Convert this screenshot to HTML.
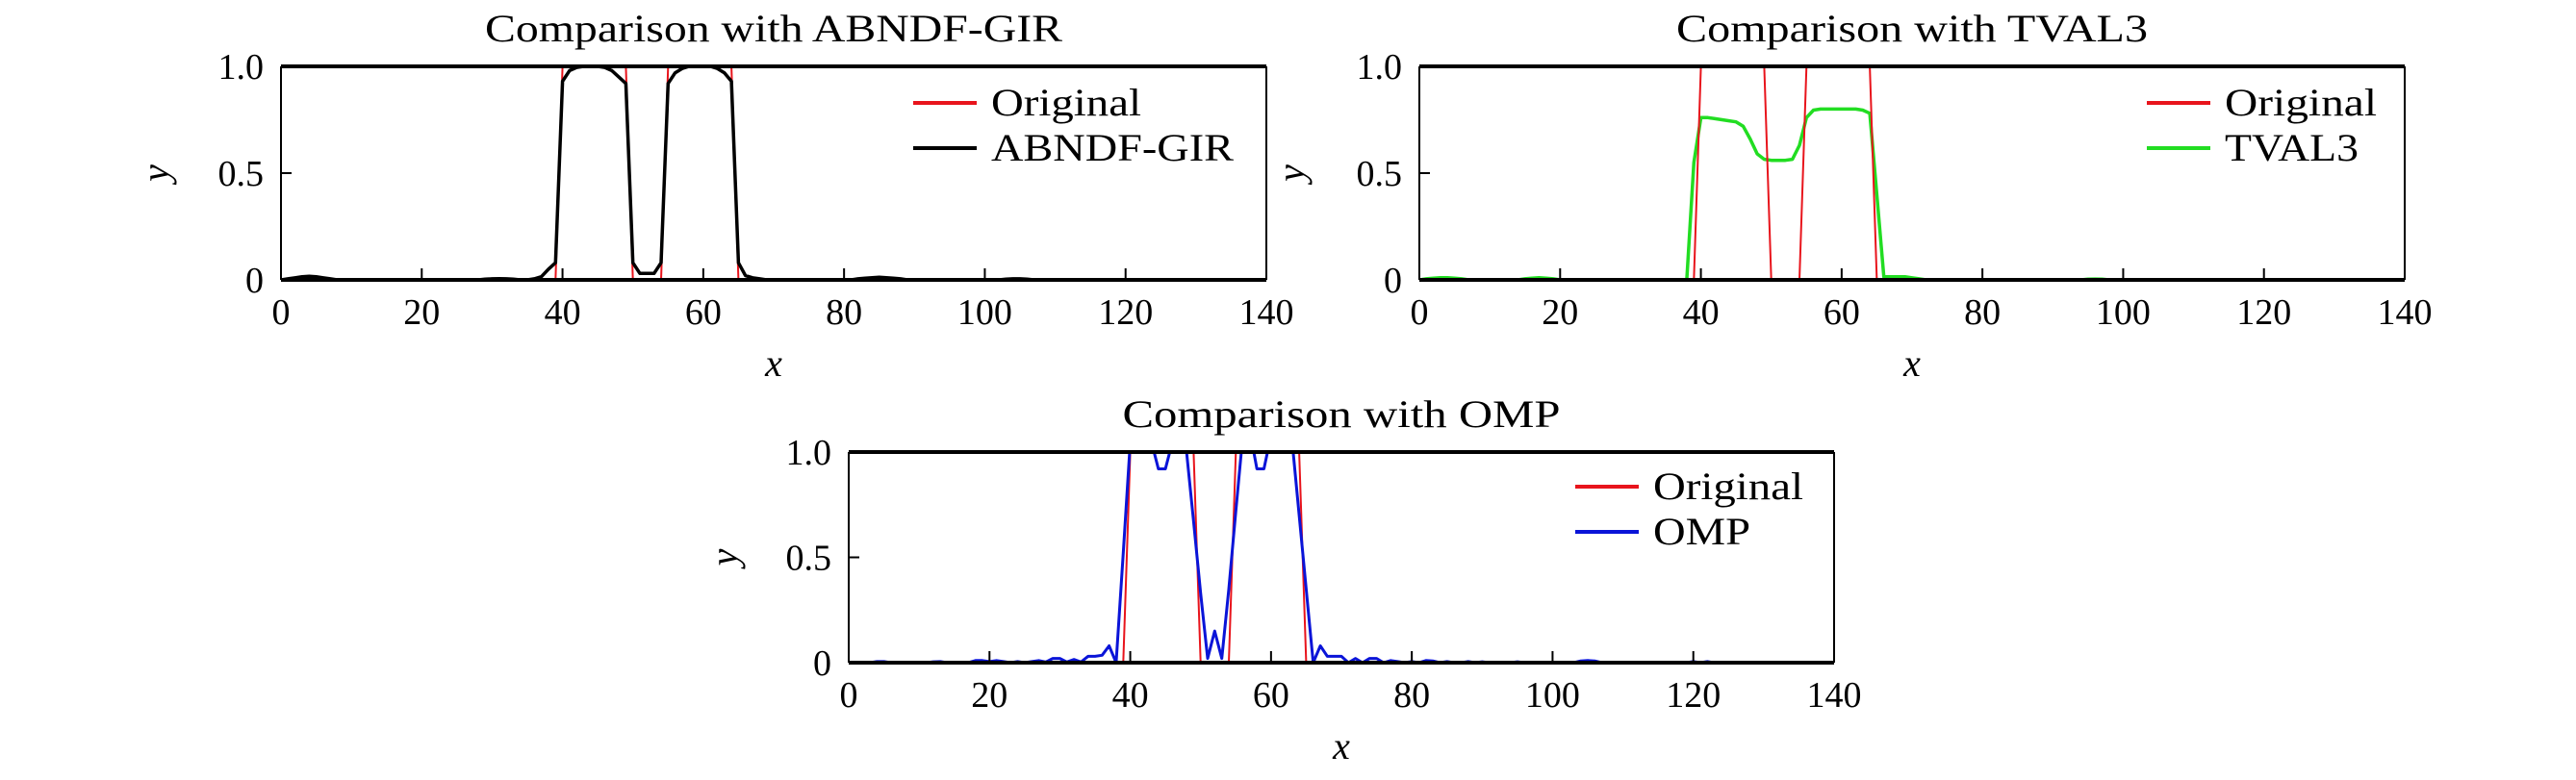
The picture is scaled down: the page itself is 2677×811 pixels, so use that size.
<!DOCTYPE html>
<html><head><meta charset="utf-8"><style>
html,body{margin:0;padding:0;background:#fff;}
svg{display:block;font-family:"Liberation Serif","DejaVu Serif",serif;}
</style></head><body>
<svg id="fig" width="2677" height="811" viewBox="0 0 2677 811" xmlns="http://www.w3.org/2000/svg"></svg>
<script>
const xs = Array.from({length:129},(_,i)=>i);
const xTicks = [0,20,40,60,80,100,120,140];
const xTickLabels = ["0","20","40","60","80","100","120","140"];
const yTicks = [0,0.5,1.0];
const yTickLabels = ["0","0.5","1.0"];
function fill(pairs){const a=new Array(129).fill(0);for(const k in pairs)a[+k]=pairs[k];return a;}
const originalVals = fill({40:1,41:1,42:1,43:1,44:1,45:1,46:1,47:1,48:1,49:1,55:1,56:1,57:1,58:1,59:1,60:1,61:1,62:1,63:1,64:1});
const abndfVals = fill({1:0.005,2:0.01,3:0.015,4:0.017,5:0.015,6:0.01,7:0.005,29:0.003,30:0.005,31:0.006,32:0.005,33:0.003,36:0.005,37:0.015,38:0.05,39:0.08,40:0.93,41:0.98,42:0.995,43:1,44:1,45:1,46:0.995,47:0.98,48:0.95,49:0.92,50:0.08,51:0.03,52:0.03,53:0.03,54:0.08,55:0.92,56:0.97,57:0.99,58:1,59:1,60:1,61:1,62:0.99,63:0.97,64:0.93,65:0.08,66:0.02,67:0.01,68:0.005,82:0.005,83:0.008,84:0.01,85:0.012,86:0.01,87:0.008,88:0.005,103:0.003,104:0.005,105:0.005,106:0.003});
const tval3Vals = fill({1:0.005,2:0.008,3:0.01,4:0.01,5:0.008,6:0.005,15:0.005,16:0.008,17:0.01,18:0.008,19:0.005,39:0.55,40:0.76,41:0.76,42:0.755,43:0.75,44:0.745,45:0.74,46:0.72,47:0.66,48:0.59,49:0.565,50:0.56,51:0.56,52:0.56,53:0.565,54:0.63,55:0.76,56:0.795,57:0.8,58:0.8,59:0.8,60:0.8,61:0.8,62:0.8,63:0.795,64:0.78,65:0.4,66:0.015,67:0.015,68:0.015,69:0.015,70:0.01,71:0.005,95:0.003,96:0.004,97:0.003});
const ompVals = fill({4:0.005,5:0.005,12:0.004,13:0.005,18:0.01,19:0.01,20:0.005,21:0.01,22:0.005,24:0.005,26:0.005,27:0.01,28:0.003,29:0.02,30:0.02,31:0.003,32:0.015,33:0.003,34:0.03,35:0.03,36:0.035,37:0.08,38:0,39:0.52,40:1.05,41:1.1,42:1.1,43:1.05,44:0.92,45:0.92,46:1.05,47:1.1,48:1.0,49:0.67,50:0.33,51:0.02,52:0.15,53:0.02,54:0.35,55:0.72,56:1.08,57:1.1,58:0.92,59:0.92,60:1.08,61:1.1,62:1.08,63:1.05,64:0.7,65:0.35,66:0,67:0.08,68:0.03,69:0.03,70:0.03,71:0,72:0.02,73:0,74:0.02,75:0.02,76:0,77:0.01,78:0.005,80:0.005,82:0.01,83:0.008,85:0.005,88:0.005,90:0.004,95:0.004,104:0.008,105:0.01,106:0.008,120:0.005,122:0.005});

const NS="http://www.w3.org/2000/svg";
const svg=document.getElementById('fig');
function el(tag,attrs,parent){const e=document.createElementNS(NS,tag);for(const k in attrs)e.setAttribute(k,attrs[k]);(parent||svg).appendChild(e);return e;}

const panels=[
 {key:'abndf',title:'Comparison with ABNDF-GIR',L:292,R:1316,T:69,B:291,est:abndfVals,estColor:'#000000',estName:'ABNDF-GIR',estW:3.5,redTop:false,legX:949,legY:107,ylabX:175,titleW:600,legW:[156,252]},
 {key:'tval3',title:'Comparison with TVAL3',L:1475,R:2499,T:69,B:291,est:tval3Vals,estColor:'#22dd22',estName:'TVAL3',estW:3.5,redTop:true,legX:2231,legY:107,ylabX:1355,titleW:490,legW:[158,139]},
 {key:'omp',title:'Comparison with OMP',L:882,R:1906,T:470,B:689,est:ompVals,estColor:'#0a14d8',estName:'OMP',estW:3,redTop:false,legX:1637,legY:506,ylabX:766,titleW:455,legW:[156,101]}
];

panels.forEach(p=>{
  const g=el('g',{});
  
  
  const sx=v=>p.L+(v-0)/140*(p.R-p.L);
  const sy=v=>p.B-(v-0)/1*(p.B-p.T);
  const cp=el('clipPath',{id:'clip-'+p.key},g);
  el('rect',{x:p.L,y:p.T,width:p.R-p.L,height:p.B-p.T},cp);
  const t=el('text',{x:(p.L+p.R)/2,y:p.T-26,'text-anchor':'middle','font-size':40,textLength:p.titleW,lengthAdjust:'spacingAndGlyphs'},g);
  t.textContent=p.title;
  
  
  const mk=(vals,color,w,name)=>{
    const d=xs.map((x,i)=>(i?'L':'M')+sx(x).toFixed(1)+' '+sy(vals[i]).toFixed(1)).join(' ');
    const path=el('path',{d:d,fill:'none',stroke:color,'stroke-width':w,'stroke-linejoin':'round','clip-path':'url(#clip-'+p.key+')'},g);
    
    
  };
  if(!p.redTop) mk(originalVals,'#e8141c',2,'original-line');
  mk(p.est,p.estColor,p.estW,p.key+'-line');
  if(p.redTop) mk(originalVals,'#e8141c',2,'original-line');
  el('line',{x1:p.L,y1:p.T,x2:p.R,y2:p.T,stroke:'#000','stroke-width':4},g);
  el('line',{x1:p.L,y1:p.B,x2:p.R,y2:p.B,stroke:'#000','stroke-width':4},g);
  el('line',{x1:p.L,y1:p.T,x2:p.L,y2:p.B,stroke:'#000','stroke-width':2},g);
  el('line',{x1:p.R,y1:p.T,x2:p.R,y2:p.B,stroke:'#000','stroke-width':2},g);
  xTicks.forEach((v,i)=>{
    el('line',{x1:sx(v),y1:p.B,x2:sx(v),y2:p.B-12,stroke:'#000','stroke-width':2},g);
    const tl=el('text',{x:sx(v),y:p.B+46,'text-anchor':'middle','font-size':38},g);
    tl.textContent=xTickLabels[i];
    
    
  });
  yTicks.forEach((v,i)=>{
    el('line',{x1:p.L,y1:sy(v),x2:p.L+11,y2:sy(v),stroke:'#000','stroke-width':2},g);
    const tl=el('text',{x:p.L-18,y:sy(v)+13,'text-anchor':'end','font-size':38},g);
    tl.textContent=yTickLabels[i];
    
    
  });
  const xl=el('text',{x:(p.L+p.R)/2,y:p.B+100,'text-anchor':'middle','font-size':40,'font-style':'italic'},g);
  xl.textContent='x';
  
  
  const yc=(p.T+p.B)/2;
  const yl=el('text',{x:p.ylabX,y:yc,'text-anchor':'middle','font-size':40,'font-style':'italic',transform:'rotate(-90 '+p.ylabX+' '+yc+')'},g);
  yl.textContent='y';
  
  
  const lg=el('g',{},g);
  
  
  [['Original','#e8141c'],[p.estName,p.estColor]].forEach((e,i)=>{
    const y=p.legY+i*47;
    el('line',{x1:p.legX,y1:y,x2:p.legX+66,y2:y,stroke:e[1],'stroke-width':4},lg);
    const tx=el('text',{x:p.legX+81,y:y+13,'font-size':40,textLength:p.legW[i],lengthAdjust:'spacingAndGlyphs'},lg);
    tx.textContent=e[0];
    
    
  });
});
</script>
</body></html>
